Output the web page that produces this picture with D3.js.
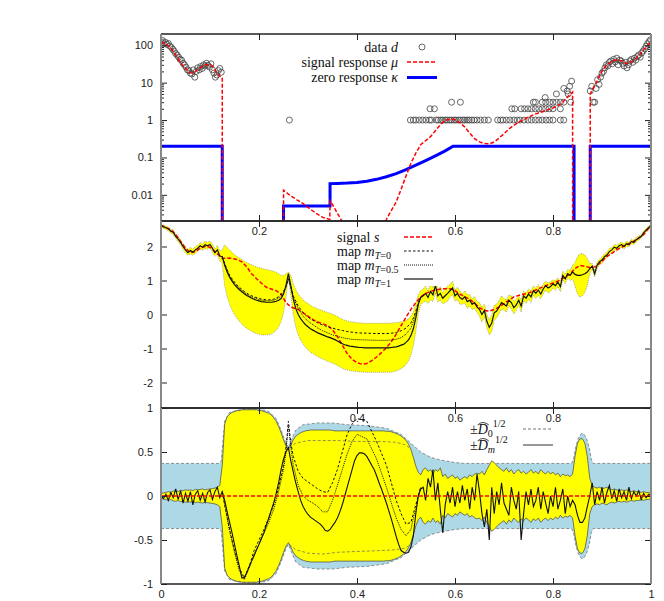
<!DOCTYPE html>
<html><head><meta charset="utf-8">
<script src="https://cdn.jsdelivr.net/npm/d3@7"></script>
<style>body{margin:0;background:#fff}</style>
</head><body>
<svg id="c" width="664" height="601"></svg>
<script>
// ---------------- tick labels ----------------
const xTicks = [0, 0.2, 0.4, 0.6, 0.8, 1];
const xTickLabelsBottom = ["0", "0.2", "0.4", "0.6", "0.8", "1"];
const xTickLabelsTop = ["", "0.2", "", "0.6", "0.8", ""];   // 0.4 sits under the opaque key of the middle panel
const xTickLabelsMid = ["", "0.2", "0.4", "0.6", "0.8", ""];
const topTicks = [0.01, 0.1, 1, 10, 100];
const topTickLabels = ["0.01", "0.1", "1", "10", "100"];
const midTicks = [-2, -1, 0, 1, 2];
const botTicks = [-1, -0.5, 0, 0.5, 1];
const botTickLabels = ["-1", "-0.5", "0", "0.5", "1"];

// ---------------- top panel: data d ----------------
const d1X = [0.000,0.003,0.006,0.009,0.012,0.015,0.018,0.021,0.024,0.027,0.030,0.033,0.036,0.039,0.042,0.045,0.048,0.051,0.054,0.057,0.060,0.063,0.066,0.069,0.072,0.075,0.078,0.081,0.084,0.087,0.090,0.093,0.096,0.099,0.102,0.105,0.108,0.111,0.114,0.117,0.120,0.123];
const d1 = [125,135,110,120,105,112,95,88,78,70,60,55,48,42,40,33,30,26,22,21,18,17,22,14,20,25,22,27,24,30,28,33,29,26,32,22,18,14,16,21,24,19];
const dMidX = [0.262,
 0.509,0.515,0.520,0.527,0.534,0.541,0.548,0.552,0.562,0.566,0.571,0.575,0.580,0.584,0.589,0.593,0.598,0.602,0.607,0.611,0.616,0.620,0.625,0.629,0.634,0.639,0.645,0.652,0.660,0.668,0.687,0.693,0.698,0.705,0.712,0.720,0.727,0.733,0.741,0.749,0.756,0.764,0.771,0.778,0.786,0.793,0.800,0.815,0.822,
 0.549,0.558,0.716,0.722,0.735,0.742,0.749,0.756,0.764,0.771,0.778,0.785,0.792,0.800,0.815,
 0.593,0.611,0.760,0.764,0.778,0.785,0.793,0.800,0.807,0.815,0.822,0.836,
 0.784,0.807,0.822,0.829,0.834,0.838,0.831];
const dMid = [1,
 1,1,1,1,1,1,1,1,1,1,1,1,1,1,1,1,1,1,1,1,1,1,1,1,1,1,1,1,1,1,1,1,1,1,1,1,1,1,1,1,1,1,1,1,1,1,1,1,1,
 2,2,2,2,2,2,2,2,2,2,2,2,2,2,2,
 3,3,3,3,3,3,3,3,3,3,3,3,
 4,5,7,6,8,11,5];
const d3X = [0.876,0.879,0.882,0.885,0.888,0.891,0.894,0.897,0.900,0.903,0.906,0.909,0.912,0.915,0.918,0.921,0.924,0.927,0.930,0.933,0.936,0.939,0.942,0.945,0.948,0.951,0.954,0.957,0.960,0.963,0.966,0.969,0.972,0.975,0.978,0.981,0.984,0.987,0.990,0.993,0.996,0.999];
const d3v = [6,8,3,3,7,12,9,14,18,20,25,30,28,35,38,32,42,36,45,30,40,38,33,28,35,25,30,38,42,35,45,40,50,55,48,62,70,80,95,110,125,140];

// ---------------- top panel: signal response mu (1e-6 = no response) ----------------
const muX = [0,0.01,0.02,0.03,0.04,0.05,0.06,0.065,0.07,0.08,0.09,0.1,0.105,0.11,0.115,0.12,0.125,0.1251,
 0.25,0.2501,0.26,0.27,0.28,0.29,0.30,0.31,0.32,0.33,0.3445,0.345,0.35,0.355,0.36,0.365,0.37,0.38,0.40,0.42,0.44,0.455,0.46,0.47,0.48,0.49,0.50,0.51,0.52,0.53,0.54,0.55,0.56,0.57,0.58,0.59,0.60,0.61,0.62,0.63,0.64,0.65,0.66,0.67,0.68,0.69,0.70,0.71,0.72,0.73,0.74,0.75,0.76,0.77,0.78,0.79,0.80,0.81,0.82,0.83,0.84,0.8401,
 0.8759,0.876,0.88,0.885,0.89,0.895,0.90,0.905,0.91,0.915,0.92,0.93,0.94,0.95,0.96,0.97,0.98,0.99,1.0];
const muY = [120,110,85,55,34,24,18.5,18,20,25,30,30,28,23,17,15,13.6,1e-6,
 1e-6,0.0133,0.0105,0.0085,0.007,0.0058,0.0046,0.0037,0.003,0.0025,0.0022,0.0068,0.0055,0.0042,0.0032,0.0025,0.0019,0.0012,0.0006,0.0004,0.0006,0.0015,0.0022,0.0038,0.0065,0.014,0.032,0.07,0.13,0.22,0.28,0.36,0.52,0.75,0.98,1.06,1.02,0.85,0.65,0.45,0.32,0.26,0.235,0.23,0.26,0.33,0.43,0.58,0.72,0.88,1.02,1.2,1.38,1.55,1.7,1.9,2.1,2.45,3.0,4.2,5.6,1e-6,
 1e-6,4.9,6.5,8.5,11,15,20,25,30,33,37,41,38,32,36,45,62,90,128];

// ---------------- top panel: zero response kappa ----------------
const kapX = [0,0.125,0.125,0.25,0.25,0.345,0.345,0.36,0.38,0.40,0.42,0.44,0.46,0.48,0.50,0.52,0.54,0.56,0.58,0.596,0.843,0.843,0.876,0.876,1];
const kapY = [0.2,0.2,1e-6,1e-6,0.005,0.005,0.02,0.0202,0.0206,0.0215,0.0232,0.026,0.0305,0.037,0.047,0.062,0.082,0.11,0.15,0.2,0.2,1e-6,1e-6,0.2,0.2];

// ---------------- middle panel: signal s ----------------
const sX = [0,0.01,0.02,0.03,0.04,0.05,0.06,0.07,0.08,0.09,0.1,0.11,0.12,0.125,0.14,0.155,0.165,0.175,0.185,0.195,0.205,0.215,0.225,0.235,0.245,0.255,0.265,0.28,0.295,0.31,0.325,0.34,0.35,0.36,0.37,0.38,0.39,0.40,0.41,0.42,0.43,0.44,0.45,0.46,0.47,0.48,0.49,0.50,0.51,0.52,0.53,0.54,0.55,0.56,0.575,0.59,0.60,0.61,0.62,0.63,0.64,0.65,0.66,0.67,0.68,0.69,0.70,0.71,0.72,0.735,0.75,0.765,0.78,0.795,0.81,0.825,0.835,0.845,0.855,0.865,0.875,0.885,0.895,0.91,0.93,0.95,0.97,0.985,1.0];
const sY = [2.63,2.55,2.5,2.35,2.15,1.95,1.82,1.85,1.95,2.0,1.98,1.85,1.72,1.65,1.66,1.62,1.55,1.4,1.2,1.05,0.92,0.8,0.75,0.7,0.6,0.35,0.22,0.15,0.0,-0.15,-0.25,-0.32,-0.45,-0.65,-0.9,-1.15,-1.32,-1.42,-1.46,-1.44,-1.36,-1.25,-1.12,-0.98,-0.8,-0.58,-0.33,-0.08,0.15,0.35,0.52,0.62,0.68,0.72,0.76,0.76,0.7,0.6,0.52,0.45,0.33,0.2,0.12,0.1,0.15,0.22,0.32,0.42,0.52,0.58,0.63,0.72,0.82,0.9,0.98,1.1,1.2,1.35,1.44,1.42,1.38,1.4,1.5,1.7,1.9,2.05,2.2,2.35,2.62];

// ---------------- middle panel: map m_{T=1} on a 0.005 grid ----------------
const mT1 = [2.62,2.58,2.55,2.52,2.45,2.42,2.30,2.22,2.12,2.00,1.90,1.82,1.88,1.83,1.90,1.95,2.02,1.98,2.05,2.02,2.06,1.95,1.82,1.90,1.72,1.70,
 1.45,1.25,1.10,0.98,0.88,0.80,0.73,0.67,0.61,0.56,0.52,0.48,0.45,0.42,0.40,0.38,0.37,0.36,0.36,0.36,0.37,0.39,0.42,0.47,0.60,0.85,1.20,
 0.85,0.45,0.18,0.00,-0.12,-0.22,-0.30,-0.36,-0.42,-0.46,-0.50,-0.54,-0.57,-0.60,-0.63,-0.66,-0.68,-0.71,-0.74,-0.78,-0.82,-0.86,-0.89,-0.91,-0.93,-0.94,-0.95,-0.96,
 -0.97,-0.97,-0.98,-0.98,-0.98,-0.98,-0.98,-0.98,-0.98,-0.98,-0.98,-0.98,-0.98,-0.97,-0.96,-0.95,-0.93,-0.90,-0.88,-0.82,-0.75,-0.62,-0.42,-0.10,0.30,0.50,
 0.55,0.62,0.50,0.68,0.58,0.85,0.55,0.62,0.48,0.55,0.62,0.70,0.78,0.55,0.62,0.50,0.45,0.52,0.38,0.42,0.30,0.35,0.22,0.15,0.00,0.12,-0.20,-0.38,-0.25,0.05,0.10,0.22,0.35,0.30,0.25,0.42,0.35,0.20,0.28,0.42,0.25,0.55,0.48,0.60,0.52,0.70,0.62,0.72,0.60,0.75,0.85,0.78,0.82,0.90,0.85,0.95,0.82,1.15,1.05,1.20,1.15,1.25,
 1.18,1.15,1.15,1.17,1.20,1.25,1.35,
 1.42,1.20,1.45,1.55,1.60,1.70,1.75,1.85,1.90,1.98,1.95,2.02,2.05,2.00,2.08,2.05,2.15,2.12,2.20,2.25,2.30,2.40,2.48,2.55,2.62];
// posterior std of the map (middle panel band half width), same grid
const sdMid = [0.04,0.05,0.05,0.06,0.05,0.07,0.06,0.08,0.07,0.08,0.09,0.08,0.10,0.09,0.10,0.08,0.10,0.09,0.11,0.10,0.10,0.12,0.11,0.13,0.15,0.20,
 0.60,0.72,0.80,0.85,0.88,0.91,0.93,0.95,0.96,0.97,0.97,0.98,0.98,0.98,0.98,0.98,0.97,0.96,0.95,0.93,0.90,0.85,0.78,0.68,0.55,0.35,0.05,
 0.30,0.45,0.55,0.60,0.63,0.65,0.67,0.68,0.69,0.69,0.70,0.70,0.71,0.71,0.71,0.72,0.72,0.72,0.72,0.72,0.72,0.72,0.72,0.72,0.72,0.72,
 0.72,0.72,0.72,0.72,0.72,0.72,0.72,0.72,0.72,0.72,0.72,0.72,0.72,0.72,0.72,0.72,0.72,0.71,0.70,0.69,0.67,0.65,0.62,0.57,0.50,0.40,0.28,0.20,
 0.20,0.22,0.18,0.25,0.20,0.22,0.18,0.20,0.17,0.20,0.22,0.18,0.20,0.16,0.18,0.20,0.15,0.18,0.20,0.17,0.15,0.18,0.16,0.20,0.22,0.18,0.20,0.22,0.25,0.22,0.20,0.18,0.20,0.17,0.18,0.15,0.20,0.18,0.16,0.15,0.18,0.14,0.16,0.15,0.17,0.14,0.15,0.16,0.14,0.15,0.13,0.15,0.14,0.12,0.14,0.13,0.15,0.12,0.14,0.12,0.15,0.20,
 0.35,0.55,0.64,0.62,0.55,0.40,0.15,
 0.08,0.10,0.09,0.08,0.10,0.09,0.08,0.09,0.07,0.08,0.09,0.07,0.08,0.07,0.08,0.06,0.07,0.06,0.07,0.06,0.05,0.06,0.05,0.05,0.04];
// maps m_{T=0}, m_{T=0.5} inside the unobserved gap (elsewhere they coincide with m_{T=1})
const gapX = [0.125,0.13,0.14,0.15,0.16,0.17,0.18,0.19,0.20,0.21,0.22,0.23,0.24,0.25,0.255,0.26,0.265,0.27,0.28,0.29,0.30,0.31,0.32,0.33,0.34,0.35,0.36,0.37,0.38,0.39,0.40,0.42,0.44,0.46,0.47,0.48,0.49,0.50,0.51,0.515,0.52,0.525,0.53];
const mT0 = [1.7,1.5,1.15,0.95,0.8,0.68,0.58,0.52,0.47,0.44,0.43,0.45,0.52,0.68,0.82,1.05,0.8,0.55,0.25,0.05,-0.08,-0.17,-0.25,-0.31,-0.36,-0.4,-0.44,-0.47,-0.5,-0.52,-0.54,-0.55,-0.56,-0.56,-0.55,-0.53,-0.48,-0.4,-0.25,-0.1,0.1,0.35,0.5];
const mT05 = [1.7,1.48,1.12,0.92,0.77,0.65,0.55,0.49,0.44,0.41,0.4,0.42,0.48,0.64,0.8,1.05,0.78,0.5,0.18,-0.05,-0.2,-0.3,-0.4,-0.48,-0.54,-0.6,-0.64,-0.68,-0.71,-0.73,-0.74,-0.75,-0.76,-0.76,-0.75,-0.73,-0.68,-0.58,-0.4,-0.2,0.05,0.3,0.5];

// ---------------- bottom panel ----------------
// error m_{T=1} - s on the 0.005 grid
const eT1 = [0.0,-0.03,0.02,-0.05,0.04,-0.02,0.08,-0.04,0.06,-0.08,0.03,-0.06,0.05,-0.1,0.02,0.06,-0.05,0.03,-0.07,0.04,0.07,-0.04,0.05,0.1,-0.02,0.05,
 -0.05,-0.18,-0.3,-0.42,-0.55,-0.68,-0.8,-0.93,-0.93,-0.87,-0.8,-0.74,-0.68,-0.61,-0.55,-0.48,-0.42,-0.33,-0.25,-0.16,-0.08,0.03,0.15,0.3,0.42,0.5,0.55,
 0.4,0.27,0.15,0.05,-0.05,-0.12,-0.17,-0.21,-0.24,-0.26,-0.28,-0.3,-0.32,-0.35,-0.39,-0.4,-0.38,-0.34,-0.3,-0.25,-0.18,-0.1,0.0,0.1,0.2,0.3,0.4,0.46,
 0.49,0.49,0.48,0.45,0.4,0.35,0.3,0.23,0.15,0.08,0.0,-0.08,-0.17,-0.26,-0.36,-0.46,-0.55,-0.62,-0.64,-0.65,-0.64,-0.58,-0.45,-0.2,0.0,0.08,
 0.1,-0.05,0.2,0.1,0.3,-0.05,0.15,-0.15,-0.42,-0.1,0.05,-0.08,0.1,-0.12,0.05,-0.08,0.12,-0.05,0.08,-0.15,0.1,-0.05,0.25,0.05,-0.2,-0.35,-0.15,-0.5,0.1,-0.2,0.05,-0.1,0.15,-0.08,-0.15,-0.22,0.1,-0.05,-0.15,0.05,-0.5,-0.2,0.05,-0.1,0.08,-0.12,-0.05,0.1,-0.15,0.05,-0.08,-0.2,0.0,-0.12,0.1,-0.15,-0.05,0.08,-0.2,0.0,-0.12,-0.05,
 -0.1,-0.22,-0.3,-0.3,-0.25,-0.12,0.0,
 0.15,-0.1,0.05,-0.05,0.1,-0.08,0.04,0.12,-0.03,0.06,-0.06,0.08,-0.02,0.05,-0.05,0.1,-0.03,0.05,0.0,0.06,-0.04,0.03,-0.02,0.02,0.0];
// +-D_m^{1/2} half width on the same grid
const sdm = [0.03,0.035,0.04,0.05,0.04,0.055,0.06,0.05,0.065,0.06,0.07,0.065,0.07,0.06,0.075,0.07,0.075,0.08,0.07,0.075,0.08,0.085,0.09,0.1,0.12,0.35,
 0.82,0.9,0.93,0.95,0.96,0.97,0.97,0.98,0.98,0.98,0.98,0.98,0.98,0.98,0.97,0.97,0.96,0.95,0.94,0.92,0.89,0.85,0.79,0.72,0.64,0.57,0.53,
 0.58,0.64,0.68,0.70,0.72,0.73,0.74,0.745,0.75,0.75,0.75,0.75,0.75,0.75,0.75,0.75,0.75,0.745,0.74,0.74,0.74,0.74,0.74,0.74,0.74,0.74,
 0.74,0.74,0.74,0.74,0.74,0.74,0.74,0.74,0.74,0.74,0.74,0.74,0.74,0.735,0.735,0.73,0.72,0.71,0.70,0.68,0.66,0.63,0.59,0.53,0.44,0.34,0.27,0.24,
 0.3,0.32,0.28,0.3,0.25,0.3,0.28,0.32,0.22,0.25,0.2,0.22,0.24,0.2,0.22,0.18,0.2,0.22,0.2,0.24,0.22,0.25,0.26,0.25,0.28,0.24,0.3,0.35,0.4,0.38,0.35,0.32,0.3,0.28,0.32,0.27,0.3,0.25,0.28,0.3,0.26,0.28,0.25,0.27,0.3,0.26,0.28,0.25,0.3,0.27,0.25,0.28,0.25,0.27,0.24,0.26,0.22,0.25,0.23,0.24,0.22,0.25,
 0.45,0.6,0.65,0.65,0.6,0.45,0.2,
 0.12,0.1,0.09,0.1,0.08,0.09,0.1,0.08,0.07,0.08,0.07,0.06,0.07,0.06,0.07,0.06,0.05,0.06,0.05,0.05,0.04,0.05,0.04,0.04,0.03];
// +-D_0^{1/2} half width
const sd0X = [0,0.12,0.123,0.126,0.13,0.14,0.16,0.2,0.22,0.235,0.245,0.255,0.26,0.265,0.275,0.29,0.32,0.35,0.38,0.42,0.46,0.49,0.51,0.53,0.55,0.57,0.6,0.62,0.838,0.842,0.846,0.852,0.858,0.862,0.868,0.874,0.878,0.882,1.0];
const sd0 = [0.37,0.37,0.4,0.6,0.85,0.95,0.98,0.99,0.96,0.88,0.75,0.6,0.55,0.62,0.75,0.81,0.83,0.83,0.81,0.8,0.77,0.7,0.6,0.5,0.44,0.41,0.38,0.37,0.37,0.42,0.55,0.66,0.71,0.71,0.66,0.55,0.42,0.37,0.37];
// thin dashed inner contours seen inside the second gap (upper / lower)
const innerX = [0.262,0.275,0.30,0.33,0.36,0.40,0.45,0.48,0.50,0.51];
const innerUp = [0.55,0.60,0.63,0.63,0.63,0.62,0.62,0.61,0.58,0.53];
const innerLo = [-0.55,-0.61,-0.65,-0.66,-0.64,-0.63,-0.62,-0.61,-0.59,-0.54];
// errors of the other maps in the gap
const eT0 = [0.05,-0.1,-0.38,-0.62,-0.82,-0.93,-0.8,-0.62,-0.5,-0.38,-0.25,-0.1,0.1,0.35,0.55,0.85,0.6,0.45,0.28,0.2,0.16,0.12,0.08,0.05,0.04,0.15,0.3,0.5,0.7,0.82,0.88,0.85,0.62,0.35,0.15,-0.05,-0.2,-0.32,-0.3,-0.2,-0.1,0.0,0.1];
const eT05 = [0.05,-0.1,-0.4,-0.64,-0.85,-0.95,-0.82,-0.66,-0.55,-0.42,-0.3,-0.15,0.05,0.3,0.5,0.8,0.55,0.35,0.12,0.0,-0.05,-0.08,-0.12,-0.18,-0.18,-0.05,0.12,0.3,0.48,0.62,0.7,0.65,0.42,0.1,-0.08,-0.25,-0.38,-0.45,-0.38,-0.25,-0.15,0.0,0.1];

// ================= drawing =================
const svg = d3.select("#c");
const gridX = d3.range(mT1.length).map(i => i / (mT1.length - 1));
const L = 161, R = 651;
const P = { top: [34, 221], mid: [221, 408], bot: [408, 584] };
const x = d3.scaleLinear([0, 1], [L, R]);
const yTop = d3.scaleLog([0.002, 200], [P.top[1], P.top[0]]);
const yMid = d3.scaleLinear([-2.75, 2.75], [P.mid[1], P.mid[0]]);
const yBot = d3.scaleLinear([-1, 1], [P.bot[1], P.bot[0]]);
const sans = "'Liberation Sans', Arial, sans-serif";
const serif = "'Liberation Serif', 'Times New Roman', serif";

const defs = svg.append("defs");
Object.entries(P).forEach(([k, [t, b]]) => {
  defs.append("clipPath").attr("id", "clip-" + k).append("rect")
    .attr("x", L).attr("y", t).attr("width", R - L).attr("height", b - t);
});

function frame(key, yScale, yTicksV, yLabels, minor, xLabels) {
  const [t, b] = P[key];
  const g = svg.append("g");
  const xb = d3.axisBottom(x).tickValues(xTicks).tickSize(-6).tickPadding(6)
    .tickFormat((d, i) => xLabels[i]);
  g.append("g").attr("transform", `translate(0,${b})`).call(xb);
  g.append("g").attr("transform", `translate(0,${t})`)
    .call(d3.axisTop(x).tickValues(xTicks).tickSize(-6).tickFormat(""));
  const yl = d3.axisLeft(yScale).tickValues(yTicksV).tickSize(-6).tickPadding(8)
    .tickFormat((d, i) => yLabels[i]);
  g.append("g").attr("transform", `translate(${L},0)`).call(yl);
  g.append("g").attr("transform", `translate(${R},0)`)
    .call(d3.axisRight(yScale).tickValues(yTicksV).tickSize(-6).tickFormat(""));
  if (minor) {
    g.append("g").attr("transform", `translate(${L},0)`)
      .call(d3.axisLeft(yScale).tickValues(minor).tickSize(-3).tickFormat(""));
    g.append("g").attr("transform", `translate(${R},0)`)
      .call(d3.axisRight(yScale).tickValues(minor).tickSize(-3).tickFormat(""));
  }
  g.selectAll("path.domain").remove();
  g.selectAll(".tick line").attr("stroke", "#222").attr("stroke-width", 1);
  g.selectAll("text").attr("font-family", sans).attr("font-size", 11).attr("fill", "#222");
  g.selectAll("text").filter(function () { return this.textContent === ""; }).remove();
  g.append("line").attr("x1", L).attr("x2", R).attr("y1", t).attr("y2", t).attr("stroke", "#222").attr("stroke-width", 1.5);
  g.append("line").attr("x1", L).attr("x2", R).attr("y1", b).attr("y2", b).attr("stroke", "#222").attr("stroke-width", 1.5);
  g.append("line").attr("x1", L).attr("x2", L).attr("y1", t).attr("y2", b).attr("stroke", "#888").attr("stroke-width", 2);
  g.append("line").attr("x1", R).attr("x2", R).attr("y1", t).attr("y2", b).attr("stroke", "#888").attr("stroke-width", 2);
}

// ---------- TOP PANEL ----------
{
  const g = svg.append("g").attr("clip-path", "url(#clip-top)");
  const pts = d1X.map((v, i) => [v, d1[i]])
    .concat(dMidX.map((v, i) => [v, dMid[i]]))
    .concat(d3X.map((v, i) => [v, d3v[i]]));
  g.selectAll("circle.d").data(pts).join("circle")
    .attr("cx", d => x(d[0])).attr("cy", d => yTop(d[1])).attr("r", 3)
    .attr("fill", "none").attr("stroke", "#444").attr("stroke-width", 0.8);
  const ln = d3.line().x(d => x(d[0])).y(d => yTop(d[1]));
  g.append("path").attr("d", ln(kapX.map((v, i) => [v, kapY[i]])))
    .attr("fill", "none").attr("stroke", "#0000ff").attr("stroke-width", 3);
  g.append("path").attr("d", ln(muX.map((v, i) => [v, muY[i]])))
    .attr("fill", "none").attr("stroke", "#ff0000").attr("stroke-width", 1.5).attr("stroke-dasharray", "4,2");
  const minor = [];
  [0.001, 0.01, 0.1, 1, 10, 100].forEach(dec => { for (let k = 2; k <= 9; k++) { const v = dec * k; if (v > 0.002 && v < 200) minor.push(v); } });
  frame("top", yTop, topTicks, topTickLabels, minor, xTickLabelsTop);
  const lg = svg.append("g").attr("font-family", serif).attr("font-size", 14).attr("fill", "#111");
  const rows = [
    { y: 47, t: "data ", s: "d" },
    { y: 62, t: "signal response ", s: "\u03bc" },
    { y: 77.5, t: "zero response ", s: "\u03ba" }];
  rows.forEach(r => {
    const tx = lg.append("text").attr("x", 398).attr("y", r.y + 4.5).attr("text-anchor", "end");
    tx.append("tspan").text(r.t);
    tx.append("tspan").attr("font-style", "italic").text(r.s);
  });
  lg.append("circle").attr("cx", 422).attr("cy", 47).attr("r", 3).attr("fill", "none").attr("stroke", "#444").attr("stroke-width", 0.8);
  lg.append("line").attr("x1", 407).attr("x2", 437).attr("y1", 62).attr("y2", 62).attr("stroke", "#ff0000").attr("stroke-width", 1.5).attr("stroke-dasharray", "4,2");
  lg.append("line").attr("x1", 407).attr("x2", 437).attr("y1", 77.5).attr("y2", 77.5).attr("stroke", "#0000ff").attr("stroke-width", 3);
}

// ---------- MIDDLE PANEL ----------
{
  const g = svg.append("g").attr("clip-path", "url(#clip-mid)");
  const band = d3.area().x((d, i) => x(gridX[i]))
    .y0((d, i) => yMid(mT1[i] - sdMid[i])).y1((d, i) => yMid(mT1[i] + sdMid[i]));
  g.append("path").attr("d", band(mT1)).attr("fill", "#ffff00").attr("stroke", "#777").attr("stroke-width", 0.6).attr("stroke-dasharray", "1,1");
  const ln = d3.line().x(d => x(d[0])).y(d => yMid(d[1]));
  g.append("path").attr("d", ln(sX.map((v, i) => [v, sY[i]])))
    .attr("fill", "none").attr("stroke", "#ff0000").attr("stroke-width", 1.5).attr("stroke-dasharray", "4,2");
  g.append("path").attr("d", ln(gapX.map((v, i) => [v, mT0[i]])))
    .attr("fill", "none").attr("stroke", "#111").attr("stroke-width", 1).attr("stroke-dasharray", "2.5,2");
  g.append("path").attr("d", ln(gapX.map((v, i) => [v, mT05[i]])))
    .attr("fill", "none").attr("stroke", "#111").attr("stroke-width", 1).attr("stroke-dasharray", "1,1");
  g.append("path").attr("d", ln(gridX.map((v, i) => [v, mT1[i]])))
    .attr("fill", "none").attr("stroke", "#111").attr("stroke-width", 1.2);
  const lg = svg.append("g").attr("font-family", serif).attr("font-size", 14).attr("fill", "#111");
  lg.append("rect").attr("x", 332).attr("y", 226).attr("width", 108).attr("height", 60).attr("fill", "#fff");
  const rows = [
    { y: 237, pre: "signal ", it: "s", sub: null, dash: "4,2", col: "#ff0000", w: 1.5 },
    { y: 251, pre: "map ", it: "m", sub: "T=0", dash: "2.5,2", col: "#111", w: 1 },
    { y: 265, pre: "map ", it: "m", sub: "T=0.5", dash: "1,1", col: "#111", w: 1 },
    { y: 279, pre: "map ", it: "m", sub: "T=1", dash: null, col: "#111", w: 1.2 }];
  rows.forEach(r => {
    const tx = lg.append("text").attr("x", 337).attr("y", r.y + 4.5);
    tx.append("tspan").text(r.pre);
    tx.append("tspan").attr("font-style", "italic").text(r.it);
    if (r.sub) {
      tx.append("tspan").attr("font-size", 10).attr("dy", 3).attr("font-style", "italic").text("T");
      tx.append("tspan").attr("font-size", 10).text(r.sub.slice(1));
    }
    const l = lg.append("line").attr("x1", 404).attr("x2", 433).attr("y1", r.y).attr("y2", r.y)
      .attr("stroke", r.col).attr("stroke-width", r.w);
    if (r.dash) l.attr("stroke-dasharray", r.dash);
  });
  frame("mid", yMid, midTicks, midTicks.map(String), null, xTickLabelsMid);
}

// ---------- BOTTOM PANEL ----------
{
  const g = svg.append("g").attr("clip-path", "url(#clip-bot)");
  const a0 = d3.area().x((d, i) => x(sd0X[i])).y0(d => yBot(-d)).y1(d => yBot(d));
  g.append("path").attr("d", a0(sd0)).attr("fill", "#add8e6");
  const l0u = d3.line().x((d, i) => x(sd0X[i])).y(d => yBot(d));
  const l0d = d3.line().x((d, i) => x(sd0X[i])).y(d => yBot(-d));
  [l0u, l0d].forEach(f => g.append("path").attr("d", f(sd0)).attr("fill", "none")
    .attr("stroke", "#777").attr("stroke-width", 0.8).attr("stroke-dasharray", "3,2"));
  const am = d3.area().x((d, i) => x(gridX[i])).y0(d => yBot(-d)).y1(d => yBot(d));
  g.append("path").attr("d", am(sdm)).attr("fill", "#ffff00");
  const lmu = d3.line().x((d, i) => x(gridX[i])).y(d => yBot(d));
  const lmd = d3.line().x((d, i) => x(gridX[i])).y(d => yBot(-d));
  [lmu, lmd].forEach(f => g.append("path").attr("d", f(sdm)).attr("fill", "none")
    .attr("stroke", "#444").attr("stroke-width", 0.7));
  const ln = d3.line().x(d => x(d[0])).y(d => yBot(d[1]));
  [innerUp, innerLo].forEach(arr => g.append("path").attr("d", ln(innerX.map((v, i) => [v, arr[i]])))
    .attr("fill", "none").attr("stroke", "#666").attr("stroke-width", 0.7).attr("stroke-dasharray", "3,2"));
  g.append("path").attr("d", ln(gapX.map((v, i) => [v, eT0[i]])))
    .attr("fill", "none").attr("stroke", "#111").attr("stroke-width", 1).attr("stroke-dasharray", "2.5,2");
  g.append("path").attr("d", ln(gapX.map((v, i) => [v, eT05[i]])))
    .attr("fill", "none").attr("stroke", "#111").attr("stroke-width", 1).attr("stroke-dasharray", "1,1");
  g.append("path").attr("d", ln(gridX.map((v, i) => [v, eT1[i]])))
    .attr("fill", "none").attr("stroke", "#111").attr("stroke-width", 1.1);
  g.append("path").attr("d", ln(sX.map(v => [v, 0])))
    .attr("fill", "none").attr("stroke", "#ff0000").attr("stroke-width", 1.5).attr("stroke-dasharray", "4,2");
  const lg = svg.append("g").attr("font-family", serif).attr("font-size", 14).attr("fill", "#111");
  [{ y: 429, sub: "0", dash: "3,2", col: "#777" }, { y: 445, sub: "m", dash: null, col: "#333" }].forEach(r => {
    const tx = lg.append("text").attr("x", 470).attr("y", r.y + 5);
    tx.append("tspan").text("\u00b1");
    tx.append("tspan").attr("font-style", "italic").text("D");
    tx.append("tspan").attr("font-size", 10).attr("dy", 3).attr("font-style", r.sub === "m" ? "italic" : "normal").text(r.sub);
    tx.append("tspan").attr("font-size", 10).attr("dy", -10).text("1/2");
    const e = tx.node().getExtentOfChar(1);
    lg.append("path").attr("d", `M${e.x},${e.y + 3} Q${e.x + e.width / 2},${e.y - 2} ${e.x + e.width + 1},${e.y + 3}`)
      .attr("fill", "none").attr("stroke", "#111").attr("stroke-width", 0.8);
    const l = lg.append("line").attr("x1", 523).attr("x2", 553).attr("y1", r.y).attr("y2", r.y)
      .attr("stroke", r.col).attr("stroke-width", 1);
    if (r.dash) l.attr("stroke-dasharray", r.dash);
  });
  frame("bot", yBot, botTicks, botTickLabels, null, xTickLabelsBottom);
}
</script>
</body></html>
